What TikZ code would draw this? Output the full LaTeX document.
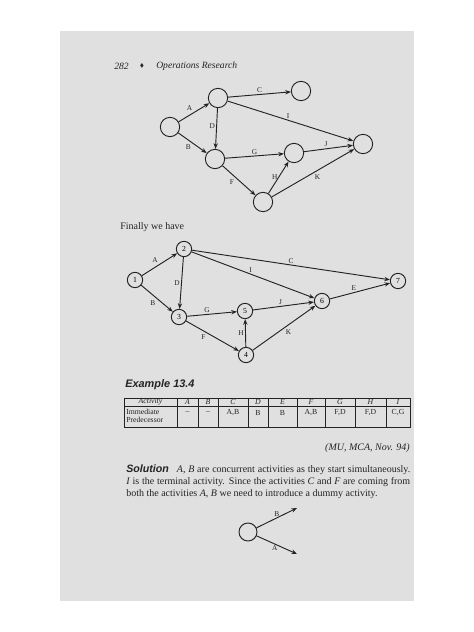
\documentclass[tikz,border=0pt]{standalone}
\usepackage{amssymb}
\usepackage{fontspec}
\setmainfont{Liberation Serif}
\setsansfont{Liberation Sans}
\usetikzlibrary{arrows.meta}

\definecolor{pagegrey}{RGB}{224,224,224}
\definecolor{inkgrey}{RGB}{35,35,35}

\tikzset{
  ev/.style={draw=inkgrey, circle, line width=0.7pt, minimum size=14.5pt, inner sep=0pt},
  evn/.style={draw=inkgrey, circle, line width=0.7pt, minimum size=11.5pt, inner sep=0pt, font=\fontsize{5.8}{6}\selectfont},
  act/.style={draw=inkgrey, -{Stealth[length=4.2pt,width=3.2pt]}, line width=0.7pt},
  lbl/.style={text=inkgrey, font=\fontsize{5.5}{6}\selectfont, inner sep=1pt},
  txt/.style={text=inkgrey, font=\fontsize{7.5}{9}\selectfont, inner sep=0pt},
  tbl/.style={text=inkgrey, font=\fontsize{5.8}{6.6}\selectfont, inner sep=0pt},
}

\begin{document}
\begin{tikzpicture}[x=0.75pt,y=0.75pt,yscale=-1,xscale=1]
        \useasboundingbox (0,0) rectangle (474,632);

        %Page
        \fill [pagegrey] (60,31) rectangle (414,601);

        % Text Node
        \node [txt, anchor=west, font=\itshape\fontsize{7.2}{9}\selectfont] (pgnum) at (114,66) {282};
        \node [txt] (orn) at (142,66) {\scalebox{0.55}{$\blacklozenge$}};
        \node [txt, anchor=west, font=\itshape\fontsize{7.2}{9}\selectfont] (title) at (156,66) {Operations Research};

        %First network
        \node [ev] (u1) at (170,127) {};
        \node [ev] (u2) at (218,98) {};
        \node [ev] (uc) at (301,91) {};
        \node [ev] (u3) at (215,159) {};
        \node [ev] (u4) at (263,202) {};
        \node [ev] (u5) at (294,153) {};
        \node [ev] (u6) at (363,144) {};

        \draw [act] (u1) -- node [lbl, above left] {A} (u2);
        \draw [act] (u1) -- node [lbl, below left] {B} (u3);
        \draw [act] (u2) -- node [lbl, above] {C} (uc);
        \draw [act] (u2) -- node [lbl, left, pos=0.45] {D} (u3);
        \draw [act] (u2) -- node [lbl, above, pos=0.48] {I} (u6);
        \draw [act] (u3) -- node [lbl, above] {G} (u5);
        \draw [act] (u5) -- node [lbl, above, pos=0.45] {J} (u6);
        \draw [act] (u3) -- node [lbl, below left, pos=0.4] {F} (u4);
        \draw [act] (u4) -- node [lbl, left, inner sep=0.5pt] {H} (u5);
        \draw [act] (u4) -- node [lbl, below right, pos=0.5] {K} (u6);

        % Text Node
        \node [txt, anchor=west] (finally) at (120,227) {Finally we have};

        %Second network
        \node [evn] (n1) at (135,280) {1};
        \node [evn] (n2) at (184,249) {2};
        \node [evn] (n3) at (179,317) {3};
        \node [evn] (n4) at (246,355) {4};
        \node [evn] (n5) at (245,311) {5};
        \node [evn] (n6) at (322,301) {6};
        \node [evn] (n7) at (398,281) {7};

        \draw [act] (n1) -- node [lbl, above left] {A} (n2);
        \draw [act] (n1) -- node [lbl, below left] {B} (n3);
        \draw [act] (n2) -- node [lbl, left] {D} (n3);
        \draw [act] (n2) -- node [lbl, above, pos=0.5] {C} (n7);
        \draw [act] (n2) -- node [lbl, above, pos=0.48] {I} (n6);
        \draw [act] (n3) -- node [lbl, above, pos=0.4] {G} (n5);
        \draw [act] (n3) -- node [lbl, below left, pos=0.4] {F} (n4);
        \draw [act] (n4) -- node [lbl, left] {H} (n5);
        \draw [act] (n5) -- node [lbl, above, pos=0.45] {J} (n6);
        \draw [act] (n4) -- node [lbl, below right] {K} (n6);
        \draw [act] (n6) -- node [lbl, above, pos=0.4] {E} (n7);

        % Text Node
        \node [txt, anchor=west, font=\sffamily\bfseries\itshape\fontsize{8.2}{9}\selectfont] (example) at (125,385) {Example 13.4};

        %Table
        \draw [inkgrey, line width=0.7pt] (124,398) rectangle (410,427);
        \draw [inkgrey, line width=0.6pt] (124,406) -- (410,406);
        \foreach \x in {177,198,218,248,268,297,325,355,386}
            \draw [inkgrey, line width=0.6pt] (\x,398) -- (\x,427);
        \node [tbl, font=\itshape\fontsize{5.8}{6.6}\selectfont] (hact) at (150.5,402) {Activity};
        \node [tbl, anchor=north west, align=left] (hpre) at (126,408.5) {Immediate\\Predecessor};
        \foreach \xa/\xb/\act/\pre in {177/198/A/--, 198/218/B/--, 218/248/C/{A,B}, 248/268/D/B, 268/297/E/B,
                                      297/325/F/{A,B}, 325/355/G/{F,D}, 355/386/H/{F,D}, 386/410/I/{C,G}}{
            \node [tbl] at ({(\xa+\xb)/2},402) {\itshape\act};
            \node [tbl] at ({(\xa+\xb)/2},412.5) {\pre};
        }

        % Text Node
        \node [txt, anchor=east, font=\itshape\fontsize{7.5}{9}\selectfont] (source) at (410,448) {(MU, MCA, Nov. 94)};

        % Text Node
        \node [txt, anchor=north west, text width=213pt, align=justify] (solution) at (126,464)
            {{\sffamily\bfseries\itshape\fontsize{8}{9}\selectfont Solution}\hspace{6pt}\textit{A}, \textit{B} are concurrent activities as they start simultaneously.\linebreak
             \textit{I} is the terminal activity. Since the activities \textit{C} and \textit{F} are coming from\linebreak
             both the activities \textit{A}, \textit{B} we need to introduce a dummy activity.};

        %Dummy start
        \node [ev, minimum size=13.5pt] (m) at (248,532) {};
        \coordinate (mb) at (297,508);
        \coordinate (ma) at (297,554);
        \draw [act] (m) -- node [lbl, above, pos=0.5] {B} (mb);
        \draw [act] (m) -- node [lbl, below, pos=0.45] {A} (ma);

\end{tikzpicture}
\end{document}
